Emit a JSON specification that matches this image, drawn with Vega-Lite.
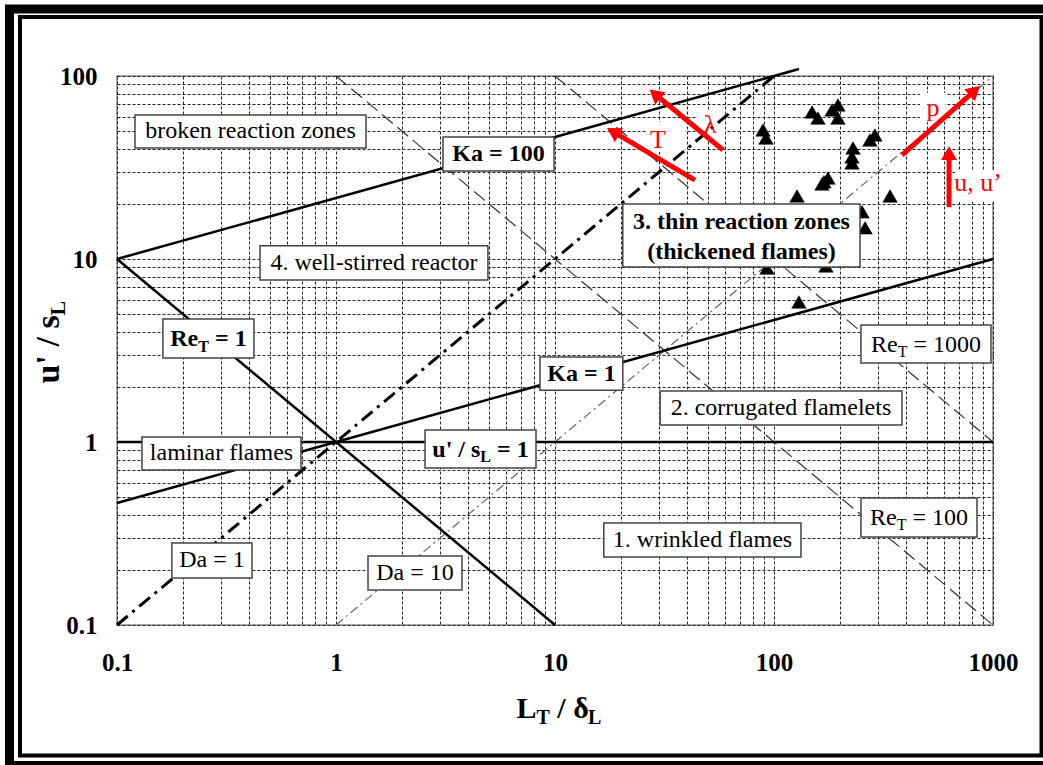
{
  "$schema": "https://vega.github.io/schema/vega-lite/v6.json",
  "width": 876,
  "height": 549,
  "autosize": "none",
  "padding": {"left": 117, "top": 76, "right": 50, "bottom": 140},
  "background": "white",
  "config": {
    "view": {"stroke": "#8c8c8c", "strokeWidth": 1.5},
    "text": {"font": "Liberation Serif"}
  },
  "datasets": {
    "frame_outer": [{"L": 0.032296, "L2": 1859.4, "u": 232.3, "u2": 0.017074}],
    "frame_inner": [{"L": 0.036062, "L2": 1665.2, "u": 210.1, "u2": 0.019357}],
    "solid_lines": [
      {"name": "Ka100", "L": 0.1, "u": 10}, {"name": "Ka100", "L": 130, "u": 109.1},
      {"name": "Ka1", "L": 0.1, "u": 0.4642}, {"name": "Ka1", "L": 1000, "u": 10},
      {"name": "Re1", "L": 0.1, "u": 10}, {"name": "Re1", "L": 10, "u": 0.1},
      {"name": "u1", "L": 0.1, "u": 1}, {"name": "u1", "L": 1000, "u": 1}
    ],
    "da1_line": [{"name": "Da1", "L": 0.1, "u": 0.1}, {"name": "Da1", "L": 100, "u": 100}],
    "da10_line": [{"name": "Da10", "L": 1, "u": 0.1}, {"name": "Da10", "L": 1000, "u": 100}],
    "re_lines": [
      {"name": "Re100", "L": 1, "u": 100}, {"name": "Re100", "L": 1000, "u": 0.1},
      {"name": "Re1000", "L": 10, "u": 100}, {"name": "Re1000", "L": 1000, "u": 1}
    ],
    "points": [
      {"L": 89.1, "u": 50.7}, {"L": 91.9, "u": 45.8}, {"L": 149.2, "u": 63.6}, {"L": 158.8, "u": 58.9},
      {"L": 195.9, "u": 69.4}, {"L": 184.1, "u": 65.2}, {"L": 195.9, "u": 58.9}, {"L": 289, "u": 47.6},
      {"L": 274.2, "u": 44.7}, {"L": 229.6, "u": 40.4}, {"L": 227, "u": 36.1}, {"L": 227, "u": 33.5},
      {"L": 176.4, "u": 27.7}, {"L": 169.1, "u": 26.4}, {"L": 165.6, "u": 25.7}, {"L": 127.4, "u": 22.1},
      {"L": 338.8, "u": 22.1}, {"L": 252.4, "u": 18.1}, {"L": 260.6, "u": 14.8}, {"L": 172.7, "u": 9.16},
      {"L": 130, "u": 5.82}, {"L": 92.9, "u": 8.93}
    ],
    "boxes": [
      {"L": 0.1208, "L2": 1.371, "u": 40.4, "u2": 61.2},
      {"L": 3.08, "L2": 9.9, "u": 30.3, "u2": 46.4},
      {"L": 0.45, "L2": 4.94, "u": 7.68, "u2": 11.8},
      {"L": 0.162, "L2": 0.422, "u": 2.88, "u2": 4.7},
      {"L": 0.13, "L2": 0.692, "u": 0.703, "u2": 1.065},
      {"L": 2.55, "L2": 8.19, "u": 0.721, "u2": 1.164},
      {"L": 8.54, "L2": 20.4, "u": 1.92, "u2": 2.91},
      {"L": 30.2, "L2": 384, "u": 1.24, "u2": 1.9},
      {"L": 249.5, "L2": 979, "u": 2.7, "u2": 4.36},
      {"L": 249.5, "L2": 845, "u": 0.303, "u2": 0.494},
      {"L": 16.7, "L2": 132.8, "u": 0.2354, "u2": 0.361},
      {"L": 0.178, "L2": 0.4135, "u": 0.1807, "u2": 0.2807},
      {"L": 1.4, "L2": 3.76, "u": 0.1553, "u2": 0.2383},
      {"L": 20.4, "L2": 247, "u": 9.04, "u2": 20.0}
    ],
    "labels_regular": [
      {"text": "broken reaction zones", "L": 0.407, "u": 49.75},
      {"text": "4. well-stirred reactor", "L": 1.491, "u": 9.51},
      {"text": "laminar flames", "L": 0.3, "u": 0.8653},
      {"text": "2. corrugated flamelets", "L": 107.6, "u": 1.535},
      {"text": "1. wrinkled flames", "L": 47.16, "u": 0.2914},
      {"text": "Da = 1", "L": 0.2716, "u": 0.2252},
      {"text": "Da = 10", "L": 2.295, "u": 0.1924}
    ],
    "labels_bold": [
      {"text": "Ka = 100", "L": 5.521, "u": 37.5},
      {"text": "Ka = 1", "L": 13.21, "u": 2.367},
      {"text": "3. thin reaction zones", "L": 71.05, "u": 15.9},
      {"text": "(thickened flames)", "L": 71.05, "u": 10.92}
    ],
    "sub_bold_main": [
      {"text": "Re", "L": 0.17512, "u": 3.3256}, {"text": "= 1", "L": 0.28022, "u": 3.3256},
      {"text": "u' / s", "L": 2.7528, "u": 0.82814}, {"text": "= 1", "L": 5.4345, "u": 0.82814}
    ],
    "sub_bold_small": [
      {"text": "T", "L": 0.23504, "u": 3.1225}, {"text": "L", "L": 4.5603, "u": 0.77735}
    ],
    "sub_reg_main": [
      {"text": "Re", "L": 277.33, "u": 3.1029}, {"text": "= 1000", "L": 433.5, "u": 3.1029},
      {"text": "Re", "L": 274.4, "u": 0.3499}, {"text": "= 100", "L": 429.0, "u": 0.3499}
    ],
    "sub_reg_small": [
      {"text": "T", "L": 367.2, "u": 2.914}, {"text": "T", "L": 363.4, "u": 0.32847}
    ],
    "arrows": [
      {"name": "lambda", "L": 58.5, "u": 39.4, "L2": 28.6, "u2": 79.7},
      {"name": "T", "L": 43.6, "u": 27.0, "L2": 18.4, "u2": 49.7},
      {"name": "p", "L": 384, "u": 37.0, "L2": 826, "u2": 83.2},
      {"name": "u", "L": 630, "u": 19.2, "L2": 630, "u2": 37.9}
    ],
    "red_labels": [
      {"text": "λ", "L": 51.0, "u": 54.0},
      {"text": "T", "L": 29.5, "u": 44.7},
      {"text": "p", "L": 532, "u": 66.9},
      {"text": "u, u’", "L": 854, "u": 26.0}
    ],
    "red_label_boxes": [
      {"L": 45.0, "L2": 59.8, "u": 44.7, "u2": 65.2},
      {"L": 26.3, "L2": 39.2, "u": 38.4, "u2": 56.1},
      {"L": 464, "L2": 604, "u": 56.1, "u2": 80.8},
      {"L": 671, "L2": 1134, "u": 20.5, "u2": 30.6}
    ],
    "xtitle_main": [{"text": "L", "L": 6.672, "u": 0.031024}, {"text": "/ δ", "L": 10.245, "u": 0.031024}],
    "xtitle_small": [{"text": "T", "L": 8.232, "u": 0.028774}, {"text": "L", "L": 14.163, "u": 0.028774}],
    "ytitle_main": [{"text": "u' / s", "L": 0.054336, "u": 2.0902}],
    "ytitle_small": [{"text": "L", "L": 0.057875, "u": 4.9183}]
  },
  "encoding": {
    "x": {
      "field": "L", "type": "quantitative", "title": null,
      "scale": {"type": "log", "domain": [0.1, 1000], "nice": false},
      "axis": {
        "values": [0.1,0.2,0.3,0.4,0.5,0.6,0.7,0.8,0.9,1,2,3,4,5,6,7,8,9,10,20,30,40,50,60,70,80,90,100,200,300,400,500,600,700,800,900,1000],
        "grid": true, "gridColor": "#222", "gridDash": [3, 2], "gridWidth": 1,
        "ticks": false, "domain": false,
        "labelFont": "Liberation Serif", "labelFontWeight": "bold", "labelFontSize": 25, "labelColor": "black",
        "labelPadding": 25, "labelFlush": false, "labelOverlap": false, "labelBound": false,
        "labelExpr": "abs(log(datum.value)/LN10 - round(log(datum.value)/LN10)) < 0.001 ? format(datum.value, '~g') : ''"
      }
    },
    "y": {
      "field": "u", "type": "quantitative", "title": null,
      "scale": {"type": "log", "domain": [0.1, 100], "nice": false},
      "axis": {
        "values": [0.1,0.2,0.3,0.4,0.5,0.6,0.7,0.8,0.9,1,2,3,4,5,6,7,8,9,10,20,30,40,50,60,70,80,90,100],
        "grid": true, "gridColor": "#222", "gridDash": [3, 2], "gridWidth": 1,
        "ticks": false, "domain": false,
        "labelFont": "Liberation Serif", "labelFontWeight": "bold", "labelFontSize": 25, "labelColor": "black",
        "labelPadding": 20, "labelFlush": false, "labelOverlap": false, "labelBound": false,
        "labelExpr": "abs(log(datum.value)/LN10 - round(log(datum.value)/LN10)) < 0.001 ? format(datum.value, '~g') : ''"
      }
    }
  },
  "layer": [
    {
      "data": {"name": "frame_outer"},
      "mark": {"type": "rect", "fill": "white", "fillOpacity": 0, "stroke": "black", "strokeWidth": 9},
      "encoding": {"x2": {"field": "L2"}, "y2": {"field": "u2"}}
    },
    {
      "data": {"name": "frame_inner"},
      "mark": {"type": "rect", "fill": "white", "fillOpacity": 0, "stroke": "black", "strokeWidth": 4},
      "encoding": {"x2": {"field": "L2"}, "y2": {"field": "u2"}}
    },
    {
      "data": {"name": "red_label_boxes"},
      "mark": {"type": "rect", "fill": "white", "strokeWidth": 0},
      "encoding": {"x2": {"field": "L2"}, "y2": {"field": "u2"}}
    },
    {
      "data": {"name": "da10_line"},
      "mark": {"type": "line", "stroke": "#666", "strokeWidth": 1.2, "strokeDash": [9, 4, 2, 4]},
      "encoding": {"detail": {"field": "name"}}
    },
    {
      "data": {"name": "re_lines"},
      "mark": {"type": "line", "stroke": "#333", "strokeWidth": 1.2, "strokeDash": [14, 6]},
      "encoding": {"detail": {"field": "name"}}
    },
    {
      "data": {"name": "solid_lines"},
      "mark": {"type": "line", "stroke": "black", "strokeWidth": 2.5},
      "encoding": {"detail": {"field": "name"}}
    },
    {
      "data": {"name": "da1_line"},
      "mark": {"type": "line", "stroke": "black", "strokeWidth": 3, "strokeDash": [14, 6, 3, 6]},
      "encoding": {"detail": {"field": "name"}}
    },
    {
      "data": {"name": "points"},
      "mark": {"type": "point", "shape": "triangle-up", "filled": true, "fill": "black", "stroke": "black", "strokeWidth": 0.5, "size": 210, "opacity": 1}
    },
    {
      "data": {"name": "boxes"},
      "mark": {"type": "rect", "fill": "white", "stroke": "#444", "strokeWidth": 1.5},
      "encoding": {"x2": {"field": "L2"}, "y2": {"field": "u2"}}
    },
    {
      "data": {"name": "arrows"},
      "mark": {"type": "rule", "stroke": "#ff0000", "strokeWidth": 5, "strokeCap": "butt"},
      "encoding": {"x2": {"field": "L2"}, "y2": {"field": "u2"}}
    },
    {
      "data": {"name": "arrows"},
      "transform": [{"filter": "datum.name == 'lambda'"}],
      "mark": {"type": "point", "shape": "triangle-up", "filled": true, "fill": "#ff0000", "size": 260, "opacity": 1, "angle": 309.4},
      "encoding": {"x": {"field": "L2", "type": "quantitative"}, "y": {"field": "u2", "type": "quantitative"}}
    },
    {
      "data": {"name": "arrows"},
      "transform": [{"filter": "datum.name == 'T'"}],
      "mark": {"type": "point", "shape": "triangle-up", "filled": true, "fill": "#ff0000", "size": 260, "opacity": 1, "angle": 300.6},
      "encoding": {"x": {"field": "L2", "type": "quantitative"}, "y": {"field": "u2", "type": "quantitative"}}
    },
    {
      "data": {"name": "arrows"},
      "transform": [{"filter": "datum.name == 'p'"}],
      "mark": {"type": "point", "shape": "triangle-up", "filled": true, "fill": "#ff0000", "size": 260, "opacity": 1, "angle": 48.5},
      "encoding": {"x": {"field": "L2", "type": "quantitative"}, "y": {"field": "u2", "type": "quantitative"}}
    },
    {
      "data": {"name": "arrows"},
      "transform": [{"filter": "datum.name == 'u'"}],
      "mark": {"type": "point", "shape": "triangle-up", "filled": true, "fill": "#ff0000", "size": 260, "opacity": 1, "angle": 0},
      "encoding": {"x": {"field": "L2", "type": "quantitative"}, "y": {"field": "u2", "type": "quantitative"}}
    },
    {
      "data": {"name": "labels_regular"},
      "mark": {"type": "text", "font": "Liberation Serif", "fontSize": 24, "fill": "black", "align": "center", "baseline": "middle"},
      "encoding": {"text": {"field": "text"}}
    },
    {
      "data": {"name": "labels_bold"},
      "mark": {"type": "text", "font": "Liberation Serif", "fontWeight": "bold", "fontSize": 24, "fill": "black", "align": "center", "baseline": "middle"},
      "encoding": {"text": {"field": "text"}}
    },
    {
      "data": {"name": "sub_bold_main"},
      "mark": {"type": "text", "font": "Liberation Serif", "fontWeight": "bold", "fontSize": 24, "fill": "black", "align": "left", "baseline": "alphabetic"},
      "encoding": {"text": {"field": "text"}}
    },
    {
      "data": {"name": "sub_bold_small"},
      "mark": {"type": "text", "font": "Liberation Serif", "fontWeight": "bold", "fontSize": 16, "fill": "black", "align": "left", "baseline": "alphabetic"},
      "encoding": {"text": {"field": "text"}}
    },
    {
      "data": {"name": "sub_reg_main"},
      "mark": {"type": "text", "font": "Liberation Serif", "fontSize": 24, "fill": "black", "align": "left", "baseline": "alphabetic"},
      "encoding": {"text": {"field": "text"}}
    },
    {
      "data": {"name": "sub_reg_small"},
      "mark": {"type": "text", "font": "Liberation Serif", "fontSize": 16, "fill": "black", "align": "left", "baseline": "alphabetic"},
      "encoding": {"text": {"field": "text"}}
    },
    {
      "data": {"name": "red_labels"},
      "mark": {"type": "text", "font": "Liberation Serif", "fontSize": 26, "fill": "#ff0000", "align": "center", "baseline": "middle"},
      "encoding": {"text": {"field": "text"}}
    },
    {
      "data": {"name": "xtitle_main"},
      "mark": {"type": "text", "font": "Liberation Serif", "fontWeight": "bold", "fontSize": 30, "fill": "black", "align": "left", "baseline": "alphabetic"},
      "encoding": {"text": {"field": "text"}}
    },
    {
      "data": {"name": "xtitle_small"},
      "mark": {"type": "text", "font": "Liberation Serif", "fontWeight": "bold", "fontSize": 20, "fill": "black", "align": "left", "baseline": "alphabetic"},
      "encoding": {"text": {"field": "text"}}
    },
    {
      "data": {"name": "ytitle_main"},
      "mark": {"type": "text", "font": "Liberation Serif", "fontWeight": "bold", "fontSize": 34, "fill": "black", "align": "left", "baseline": "alphabetic", "angle": 270},
      "encoding": {"text": {"field": "text"}}
    },
    {
      "data": {"name": "ytitle_small"},
      "mark": {"type": "text", "font": "Liberation Serif", "fontWeight": "bold", "fontSize": 22, "fill": "black", "align": "left", "baseline": "alphabetic", "angle": 270},
      "encoding": {"text": {"field": "text"}}
    }
  ]
}
